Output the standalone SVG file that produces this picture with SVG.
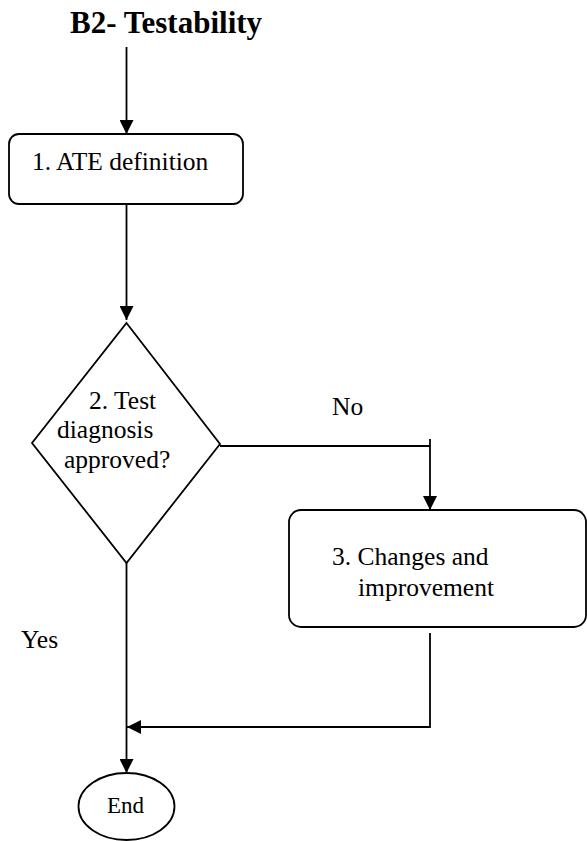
<svg xmlns="http://www.w3.org/2000/svg" width="587" height="841" viewBox="0 0 587 841">
  <style>
    .shape { fill: #ffffff; stroke: #000000; stroke-width: 1.8; }
    .conn { fill: none; stroke: #000000; stroke-width: 1.8; }
    text { font-family: 'Liberation Serif', 'Times New Roman', Times, 'DejaVu Serif', serif; fill: #000000; }
    .txt { font-size: 25.5px; }
    .title { font-size: 31px; font-weight: bold; }
  </style>
  <defs>
    <marker id="arrow" markerUnits="userSpaceOnUse" markerWidth="14" markerHeight="14" refX="14" refY="7" orient="auto">
      <path d="M0,0 L14,7 L0,14 z" fill="#000000"/>
    </marker>
  </defs>
  <rect width="587" height="841" fill="#ffffff"/>

  <text class="title" x="70" y="33">B2- Testability</text>

  <g id="connectors">
    <path class="conn" d="M126.5,47 V134" marker-end="url(#arrow)"/>
    <path class="conn" d="M126.5,204 V320" marker-end="url(#arrow)"/>
    <path class="conn" d="M220,446 H430"/>
    <path class="conn" d="M430,439 V510" marker-end="url(#arrow)"/>
    <path class="conn" d="M430,633 V727 H127" marker-end="url(#arrow)"/>
    <path class="conn" d="M126.5,563 V773" marker-end="url(#arrow)"/>
    <text class="txt" x="332" y="415">No</text>
    <text class="txt" x="21" y="648">Yes</text>
  </g>

  <g id="ate-definition">
    <rect class="shape" x="9" y="134" width="234" height="70" rx="10" ry="10"/>
    <text class="txt" x="32" y="170">1. ATE definition</text>
  </g>

  <g id="test-diagnosis">
    <polygon class="shape" points="126.5,323 220,444 126.5,563 32,443"/>
    <text class="txt" x="89" y="409">2. Test</text>
    <text class="txt" x="57" y="438">diagnosis</text>
    <text class="txt" x="64" y="468">approved?</text>
  </g>

  <g id="changes-improvement">
    <rect class="shape" x="289" y="510" width="297" height="117" rx="12" ry="12"/>
    <text class="txt" x="332" y="565">3. Changes and</text>
    <text class="txt" x="358" y="596">improvement</text>
  </g>

  <g id="end">
    <ellipse class="shape" cx="126.5" cy="806.5" rx="48" ry="33.5"/>
    <text class="txt" x="107" y="813" style="font-size:23px">End</text>
  </g>
</svg>
